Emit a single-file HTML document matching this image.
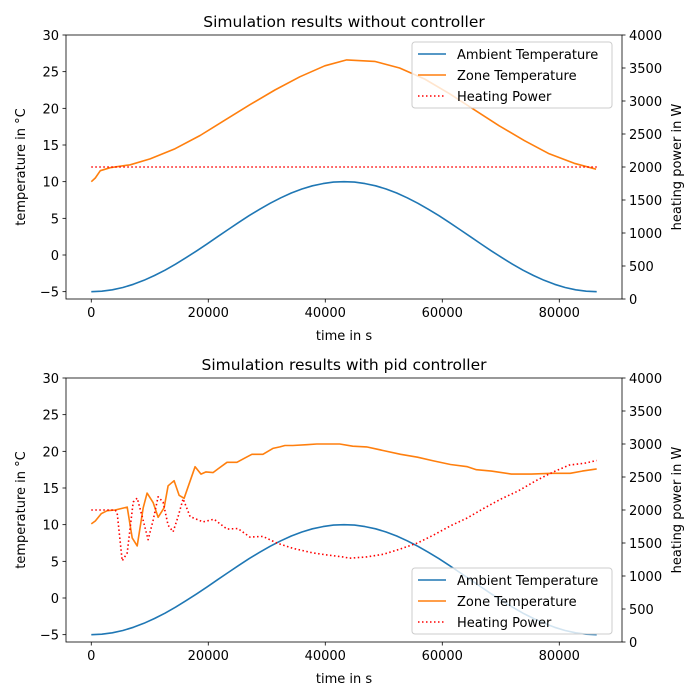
<!DOCTYPE html>
<html><head><meta charset="utf-8"><style>
html,body{margin:0;padding:0;background:#fff;}
svg{display:block;font-family:"DejaVu Sans","Liberation Sans",sans-serif;}
</style></head><body>
<svg id="fig" width="700" height="700" viewBox="0 0 700 700" xmlns="http://www.w3.org/2000/svg"></svg>
<script>
// ---- data ----
const ambientTime = [0,1800,3600,5400,7200,9000,10800,12600,14400,16200,18000,19800,21600,23400,25200,27000,28800,30600,32400,34200,36000,37800,39600,41400,43200,45000,46800,48600,50400,52200,54000,55800,57600,59400,61200,63000,64800,66600,68400,70200,72000,73800,75600,77400,79200,81000,82800,84600,86400];
const ambientTemp = [-5,-4.94,-4.74,-4.43,-4.0,-3.45,-2.8,-2.07,-1.25,-0.37,0.56,1.52,2.5,3.48,4.44,5.37,6.25,7.07,7.8,8.45,9.0,9.43,9.74,9.94,10,9.94,9.74,9.43,9.0,8.45,7.8,7.07,6.25,5.37,4.44,3.48,2.5,1.52,0.56,-0.37,-1.25,-2.07,-2.8,-3.45,-4.0,-4.43,-4.74,-4.94,-5];

const zone1Time = [0,680,1535,3240,6650,10060,14330,18600,22860,27120,31380,35650,39910,43660,48440,52700,56970,61230,65490,69760,74020,78280,82550,86300];
const zone1Temp = [10,10.5,11.5,11.9,12.3,13.1,14.5,16.3,18.4,20.5,22.5,24.3,25.8,26.6,26.4,25.5,24.0,22.0,19.8,17.6,15.6,13.8,12.5,11.7];
const heat1Time = [0,86400];
const heat1Power = [2000,2000];

const zone2Time = [0,680,1700,2730,4090,6140,6990,7850,8870,9550,10580,11430,12450,13130,14160,15010,15860,17740,18760,19610,20810,21660,23200,24900,26270,27460,29340,31040,32240,33090,34450,36840,38550,40250,42470,44690,47070,49970,52870,55770,58500,61400,64300,65840,68400,71810,75220,78800,81870,83920,86400];
const zone2Temp = [10.1,10.5,11.5,11.9,12.0,12.4,8.2,7.1,12.3,14.3,13.0,11.0,12.3,15.3,16.0,14.0,13.6,17.9,16.9,17.2,17.1,17.6,18.5,18.5,19.1,19.6,19.6,20.4,20.6,20.8,20.8,20.9,21.0,21.0,21.0,20.7,20.6,20.1,19.6,19.2,18.7,18.2,17.9,17.5,17.3,16.9,16.9,17.0,17.0,17.3,17.6];
const heat2Time = [0,4090,4430,5290,6140,7160,7850,8700,9720,10580,11430,12280,13130,13990,14840,15690,16890,19100,20980,23200,25070,27120,29340,31720,34450,37860,40250,42980,44170,47070,49970,52870,55770,58500,61400,64300,67200,70100,73000,75900,78800,81700,84430,86400];
const heat2Power = [2000,2000,1950,1230,1350,2120,2180,1900,1550,1850,2200,2120,1770,1670,1900,2170,1900,1820,1860,1710,1720,1590,1600,1500,1420,1350,1320,1290,1270,1290,1330,1410,1500,1620,1760,1880,2030,2170,2290,2440,2570,2680,2710,2750];

const xTicks = [0,20000,40000,60000,80000];
const yTicksL = [-5,0,5,10,15,20,25,30];
const yTicksR = [0,500,1000,1500,2000,2500,3000,3500,4000];

// ---- drawing ----
const NS="http://www.w3.org/2000/svg";
const svg=document.getElementById('fig');
function mk(tag,attrs,parent){const e=document.createElementNS(NS,tag);for(const k in attrs)e.setAttribute(k,attrs[k]);(parent||svg).appendChild(e);return e;}

const X0=66,X1=622,XMIN=-4320,XMAX=90720;
function xs(t){return X0+(t-XMIN)/(XMAX-XMIN)*(X1-X0);}
const FS=13;

function panel(top,title,zT,zV,hT,hV,legendY,pname){
  const bot=top+264;
  const g=mk('g',{});
  
  
  const yl=v=>top+(30-v)/36*264;
  const yr=v=>bot-v/4000*264;
  mk('rect',{x:X0,y:top,width:X1-X0,height:264,fill:'#fff'},g);
  const clip='clip'+top;
  const cp=mk('clipPath',{id:clip},g);mk('rect',{x:X0,y:top,width:X1-X0,height:264},cp);
  const lg=mk('g',{'clip-path':'url(#'+clip+')'},g);
  function line(ts,vs,sc,attrs,name){
    const d=ts.map((t,i)=>(i?'L':'M')+xs(t).toFixed(1)+','+sc(vs[i]).toFixed(1)).join('');
    const p=mk('path',Object.assign({d:d,fill:'none','stroke-linejoin':'round'},attrs),lg);
    
    
  }
  line(ambientTime,ambientTemp,yl,{stroke:'#1f77b4','stroke-width':1.6},'ambient-temperature-line');
  line(zT,zV,yl,{stroke:'#ff7f0e','stroke-width':1.6},'zone-temperature-line');
  line(hT,hV,yr,{stroke:'#ff0000','stroke-width':1.6,'stroke-dasharray':'1.5,2.5'},'heating-power-line');
  const sp=mk('rect',{x:X0,y:top,width:X1-X0,height:264,fill:'none',stroke:'#000','stroke-width':0.8},g);
  
  xTicks.forEach(t=>{const x=xs(t);mk('line',{x1:x,x2:x,y1:bot,y2:bot+3.5,stroke:'#000','stroke-width':0.8},g);
    const tx=mk('text',{x:x,y:bot+18,'font-size':FS,'text-anchor':'middle'},g);tx.textContent=t;
    });
  yTicksL.forEach(v=>{const y=yl(v);mk('line',{x1:X0-3.5,x2:X0,y1:y,y2:y,stroke:'#000','stroke-width':0.8},g);
    const tx=mk('text',{x:X0-7,y:y+5,'font-size':FS,'text-anchor':'end'},g);tx.textContent=v<0?'\u2212'+(-v):v;
    });
  yTicksR.forEach(v=>{const y=yr(v);mk('line',{x1:X1,x2:X1+3.5,y1:y,y2:y,stroke:'#000','stroke-width':0.8},g);
    const tx=mk('text',{x:X1+7,y:y+5,'font-size':FS,'text-anchor':'start'},g);tx.textContent=v;
    });
  const tt=mk('text',{x:(X0+X1)/2,y:top-8,'font-size':15.5,'text-anchor':'middle'},g);tt.textContent=title;
  
  const xl=mk('text',{x:(X0+X1)/2,y:bot+41,'font-size':FS,'text-anchor':'middle'},g);xl.textContent='time in s';
  
  const ylab=mk('text',{x:0,y:0,'font-size':FS,'text-anchor':'middle',transform:'translate(25,'+(top+132)+') rotate(-90)'},g);ylab.textContent='temperature in °C';
  
  const yrl=mk('text',{x:0,y:0,'font-size':FS,'text-anchor':'middle',transform:'translate(681,'+(top+132)+') rotate(-90)'},g);yrl.textContent='heating power in W';
  
  const L=mk('g',{},g);
  
  mk('rect',{x:412,y:legendY,width:200,height:66,rx:3,fill:'#fff','fill-opacity':0.8,stroke:'#ccc','stroke-width':1},L);
  const items=[['Ambient Temperature','#1f77b4',null],['Zone Temperature','#ff7f0e',null],['Heating Power','#ff0000','1.5,2.5']];
  items.forEach((it,i)=>{const y=legendY+12+i*21;
    const a={x1:418,x2:446,y1:y,y2:y,stroke:it[1],'stroke-width':1.6};if(it[2])a['stroke-dasharray']=it[2];
    mk('line',a,L);
    const tx=mk('text',{x:457,y:y+5,'font-size':FS},L);tx.textContent=it[0];
    });
}
panel(35,'Simulation results without controller',zone1Time,zone1Temp,heat1Time,heat1Power,42,'top-chart');
panel(378,'Simulation results with pid controller',zone2Time,zone2Temp,heat2Time,heat2Power,568,'bottom-chart');
</script>
</body></html>
